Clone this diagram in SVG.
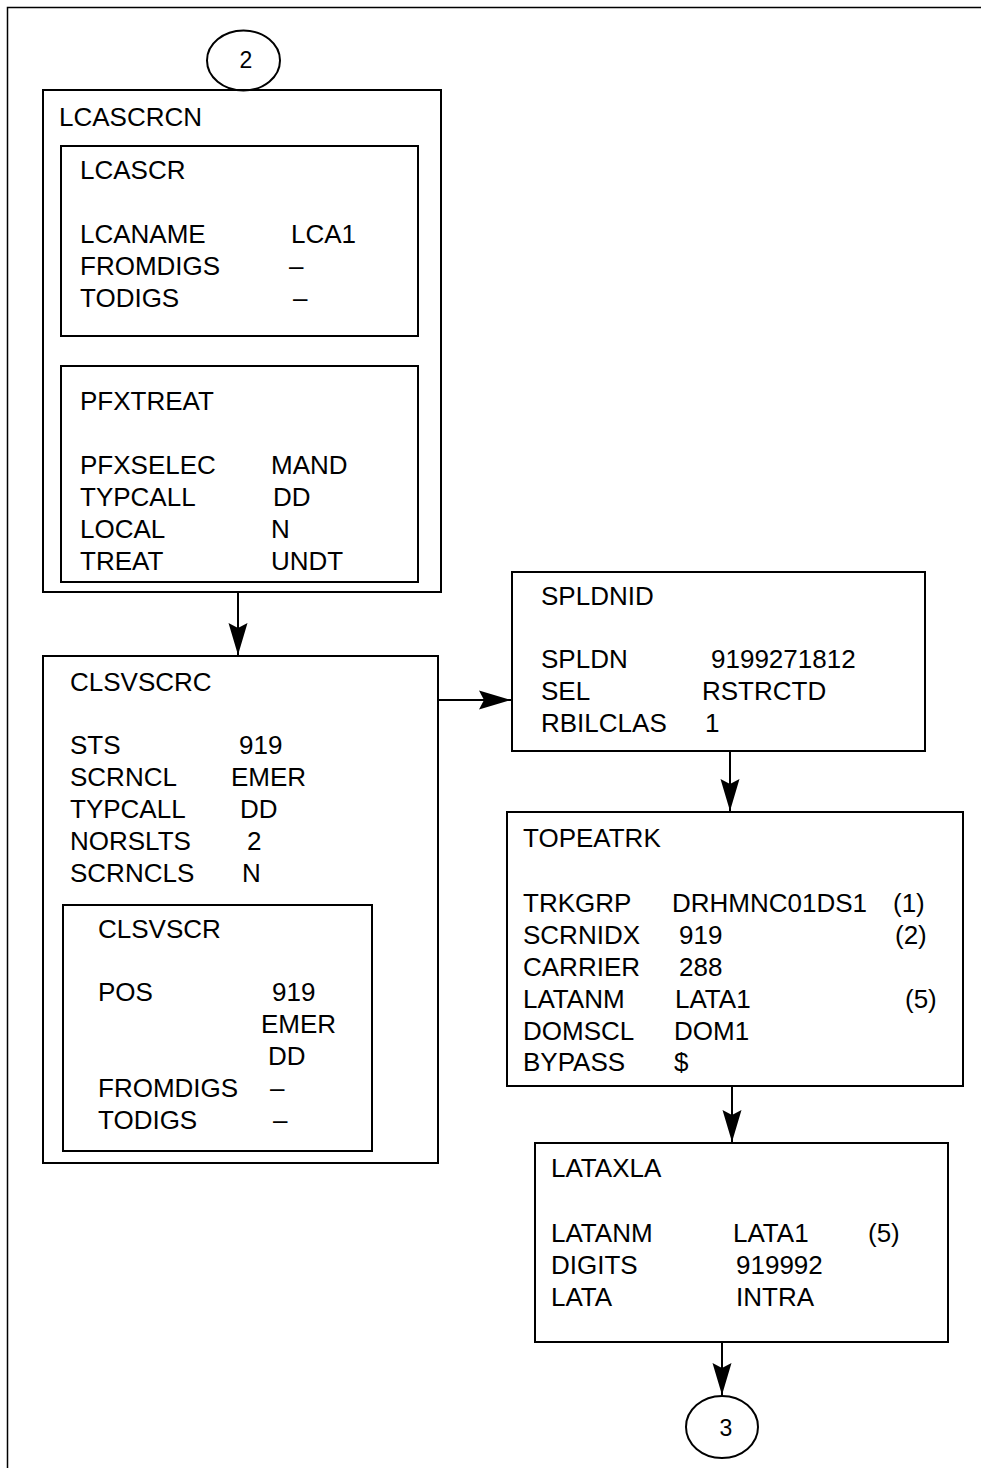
<svg xmlns="http://www.w3.org/2000/svg" width="981" height="1468" viewBox="0 0 981 1468">
  <style>
    .box { fill: none; stroke: #000; stroke-width: 2; }
    .conn { fill: none; stroke: #000; stroke-width: 2; }
    .page { fill: none; stroke: #000; stroke-width: 1.5; }
    text { font-family: "Liberation Sans", Arial, sans-serif; font-size: 26px; fill: #000; }
    .num { font-size: 23px; text-anchor: middle; }
  </style>
  <defs>
    <marker id="arrow" viewBox="0 0 32 20" refX="32" refY="10" markerWidth="32" markerHeight="20" markerUnits="userSpaceOnUse" orient="auto">
      <path d="M0,0.5 L32,10 L0,19.5 L5,10 Z" fill="#000"/>
    </marker>
  </defs>

  <rect width="981" height="1468" fill="#fff"/>
  <!-- page frame -->
  <path class="page" d="M7.5,1468 V7.5 H981"/>

  <!-- off-page connector 2 -->
  <g id="conn-in-2">
    <ellipse class="box" cx="243.5" cy="60.5" rx="36.5" ry="30"/>
    <text class="num" x="246" y="68">2</text>
  </g>

  <g id="lcascrcn">
    <rect class="box" x="43" y="90" width="398" height="502"/>
    <text x="59" y="126">LCASCRCN</text>
    <g id="lcascr">
      <rect class="box" x="61" y="146" width="357" height="190"/>
      <text x="80" y="179">LCASCR</text>
      <text x="80" y="243">LCANAME</text><text x="291" y="243">LCA1</text>
      <text x="80" y="275">FROMDIGS</text><text x="289" y="275">–</text>
      <text x="80" y="307">TODIGS</text><text x="293" y="307">–</text>
    </g>
    <g id="pfxtreat">
      <rect class="box" x="61" y="366" width="357" height="216"/>
      <text x="80" y="410">PFXTREAT</text>
      <text x="80" y="474">PFXSELEC</text><text x="271" y="474">MAND</text>
      <text x="80" y="506">TYPCALL</text><text x="273" y="506">DD</text>
      <text x="80" y="538">LOCAL</text><text x="271" y="538">N</text>
      <text x="80" y="570">TREAT</text><text x="271" y="570">UNDT</text>
    </g>
  </g>

  <g id="clsvscrc">
    <rect class="box" x="43" y="656" width="395" height="507"/>
    <text x="70" y="691">CLSVSCRC</text>
    <text x="70" y="754">STS</text><text x="239" y="754">919</text>
    <text x="70" y="786">SCRNCL</text><text x="231" y="786">EMER</text>
    <text x="70" y="818">TYPCALL</text><text x="240" y="818">DD</text>
    <text x="70" y="850">NORSLTS</text><text x="247" y="850">2</text>
    <text x="70" y="882">SCRNCLS</text><text x="242" y="882">N</text>
    <g id="clsvscr">
      <rect class="box" x="63" y="905" width="309" height="246"/>
      <text x="98" y="938">CLSVSCR</text>
      <text x="98" y="1001">POS</text><text x="272" y="1001">919</text>
      <text x="261" y="1033">EMER</text>
      <text x="268" y="1065">DD</text>
      <text x="98" y="1097">FROMDIGS</text><text x="270" y="1097">–</text>
      <text x="98" y="1129">TODIGS</text><text x="273" y="1129">–</text>
    </g>
  </g>

  <g id="spldnid">
    <rect class="box" x="512" y="572" width="413" height="179"/>
    <text x="541" y="605">SPLDNID</text>
    <text x="541" y="668">SPLDN</text><text x="711" y="668">9199271812</text>
    <text x="541" y="700">SEL</text><text x="702" y="700">RSTRCTD</text>
    <text x="541" y="732">RBILCLAS</text><text x="705" y="732">1</text>
  </g>

  <g id="topeatrk">
    <rect class="box" x="507" y="812" width="456" height="274"/>
    <text x="523" y="847">TOPEATRK</text>
    <text x="523" y="912">TRKGRP</text><text x="672" y="912">DRHMNC01DS1</text><text x="893" y="912">(1)</text>
    <text x="523" y="944">SCRNIDX</text><text x="679" y="944">919</text><text x="895" y="944">(2)</text>
    <text x="523" y="976">CARRIER</text><text x="679" y="976">288</text>
    <text x="523" y="1008">LATANM</text><text x="675" y="1008">LATA1</text><text x="905" y="1008">(5)</text>
    <text x="523" y="1040">DOMSCL</text><text x="674" y="1040">DOM1</text>
    <text x="523" y="1071">BYPASS</text><text x="674" y="1071">$</text>
  </g>

  <g id="lataxla">
    <rect class="box" x="535" y="1143" width="413" height="199"/>
    <text x="551" y="1177">LATAXLA</text>
    <text x="551" y="1242">LATANM</text><text x="733" y="1242">LATA1</text><text x="868" y="1242">(5)</text>
    <text x="551" y="1274">DIGITS</text><text x="736" y="1274">919992</text>
    <text x="551" y="1306">LATA</text><text x="736" y="1306">INTRA</text>
  </g>

  <!-- off-page connector 3 -->
  <g id="conn-out-3">
    <ellipse class="box" cx="722" cy="1427" rx="36" ry="31"/>
    <text class="num" x="726" y="1436">3</text>
  </g>

  <g id="connectors">
    <line class="conn" x1="238" y1="592" x2="238" y2="655" marker-end="url(#arrow)"/>
    <line class="conn" x1="438" y1="700" x2="511" y2="700" marker-end="url(#arrow)"/>
    <line class="conn" x1="730" y1="751" x2="730" y2="811" marker-end="url(#arrow)"/>
    <line class="conn" x1="732" y1="1086" x2="732" y2="1142" marker-end="url(#arrow)"/>
    <line class="conn" x1="722" y1="1342" x2="722" y2="1395" marker-end="url(#arrow)"/>
  </g>
</svg>
